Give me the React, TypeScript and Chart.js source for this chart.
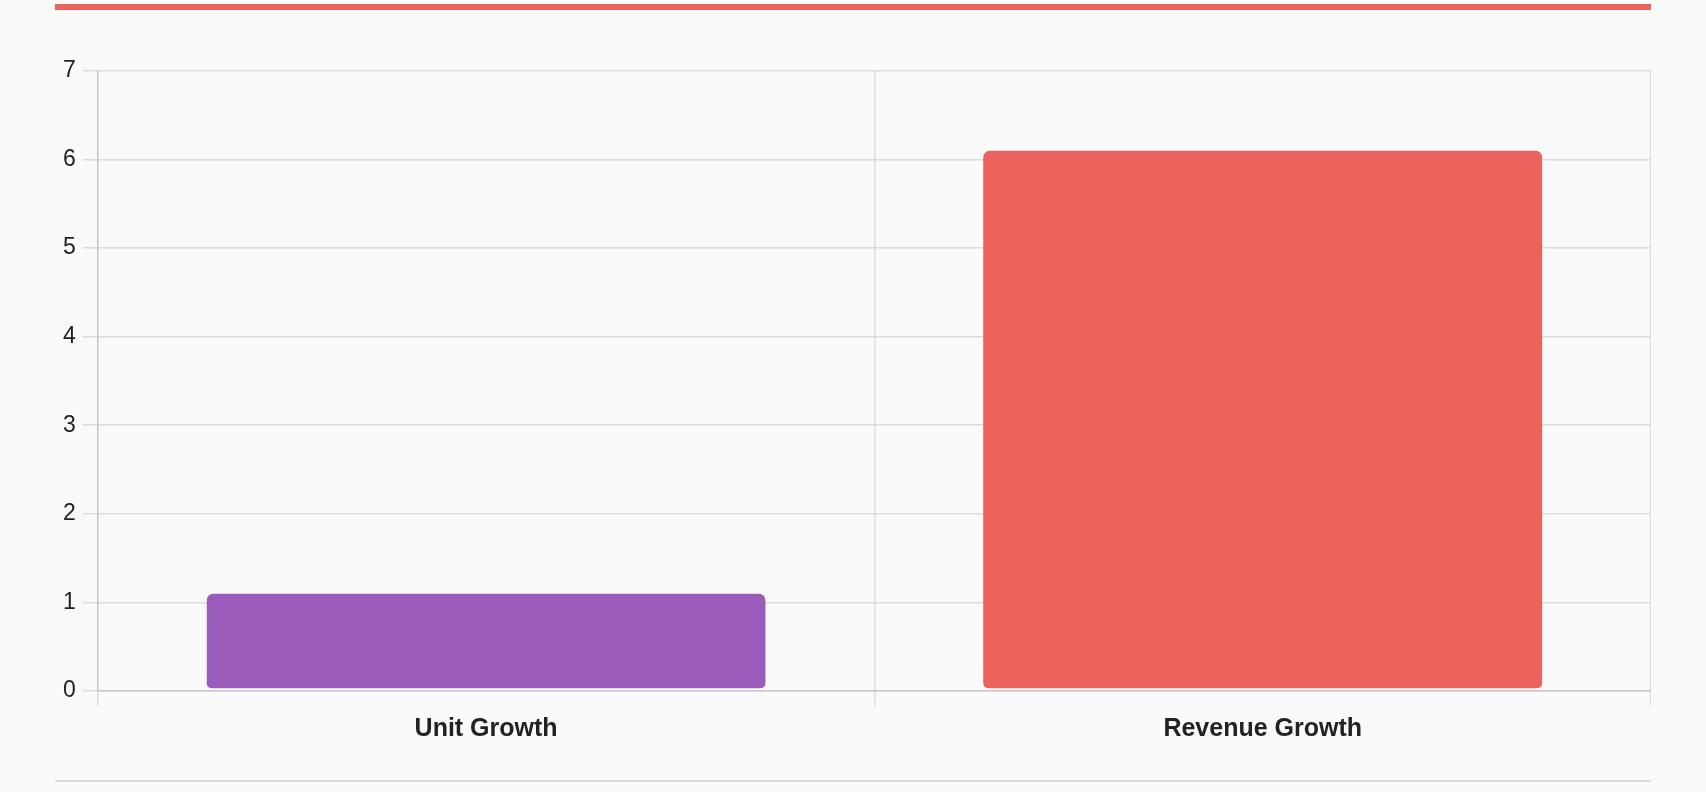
import React, { useEffect, useRef } from 'react';
import Chart from 'chart.js/auto';

const categories = ['Unit Growth', 'Revenue Growth'];
const growthValues = [1.1, 6.1];
const barColors = ['#9b5bba', '#ec635e'];
const yTicks = [0, 1, 2, 3, 4, 5, 6, 7];

export default function App() {
  const chartRef = useRef<HTMLCanvasElement>(null);
  const chartInstanceRef = useRef<Chart | null>(null);

  useEffect(() => {
    if (!chartRef.current) return;
    document.body.style.margin = '0';
    document.body.style.background = '#fafafa';

    if (chartInstanceRef.current) {
      chartInstanceRef.current.destroy();
    }

    chartInstanceRef.current = new Chart(chartRef.current, {
      type: 'bar',
      data: {
        labels: categories,
        datasets: [
          {
            label: 'Growth',
            data: growthValues,
            backgroundColor: barColors,
            borderColor: 'rgba(0,0,0,0)',
            // small gap kept between the bars and the zero line
            borderWidth: { top: 0, left: 0, right: 0, bottom: 2 },
            borderRadius: 7,
            borderSkipped: false
          }
        ]
      },
      options: {
        animation: false,
        responsive: true,
        maintainAspectRatio: false,
        layout: {
          padding: { left: 1, right: 0, top: 0, bottom: 6 }
        },
        plugins: {
          legend: { display: false },
          tooltip: { enabled: false }
        },
        scales: {
          x: {
            grid: {
              color: '#dcdcdc',
              tickLength: 15,
              lineWidth: 1.5
            },
            border: { color: '#c8c8c8', width: 1.5 },
            ticks: {
              padding: 8,
              color: '#222',
              font: { family: '"Liberation Sans", Arial, sans-serif', size: 25, weight: 'bold' }
            }
          },
          y: {
            min: yTicks[0],
            max: yTicks[yTicks.length - 1],
            grid: {
              color: '#dcdcdc',
              tickLength: 15,
              lineWidth: 1.5
            },
            border: { color: '#c8c8c8', width: 1.5 },
            ticks: {
              stepSize: 1,
              padding: 7,
              color: '#222',
              font: { family: '"Liberation Sans", Arial, sans-serif', size: 23 }
            }
          }
        }
      }
    });

    return () => {
      if (chartInstanceRef.current) {
        chartInstanceRef.current.destroy();
        chartInstanceRef.current = null;
      }
    };
  }, []);

  return (
    <div
      style={{
        width: 1596,
        margin: '4px auto 0',
        borderTop: '6px solid #ec635e',
        borderBottom: '2px solid #dddddd'
      }}
    >
      <div style={{ position: 'relative', height: 708, marginTop: 40, marginBottom: 22 }}>
        <canvas ref={chartRef} />
      </div>
    </div>
  );
}
